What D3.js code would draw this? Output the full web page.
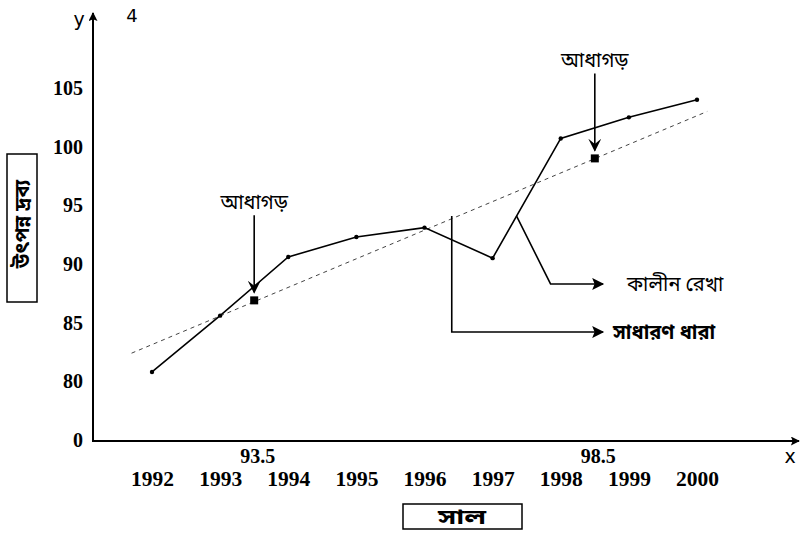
<!DOCTYPE html>
<html>
<head>
<meta charset="utf-8">
<script src="https://cdn.jsdelivr.net/npm/d3@7"></script>
<style>
  body { margin: 0; background: #fff; }
  svg { display: block; }
</style>
</head>
<body>
<svg id="chart" width="800" height="533"></svg>
<script>
// ---- data ----
const years = [1992, 1993, 1994, 1995, 1996, 1997, 1998, 1999, 2000];
const production = [80.8, 85.6, 90.6, 92.3, 93.1, 90.5, 100.7, 102.5, 104.0];
const semiAvgX = [1993.5, 1998.5];
const semiAvgLabels = ["93.5", "98.5"];
const semiAvgValues = [86.9, 99.0];
const trendYears = [1991.7, 2000.15];
const trendValues = [82.4, 103.0];
const yTickValues = [75, 80, 85, 90, 95, 100, 105];
const yTickLabels = ["0", "80", "85", "90", "95", "100", "105"];
const yTitle = "উৎপন্ন দ্রব্য";
const xTitle = "সাল";
const semiAvgText = "আধাগড়";
const seriesText = "কালীন রেখা";
const trendText = "সাধারণ ধারা";

// ---- layout ----
const svg = d3.select("#chart");
const x = d3.scaleLinear().domain([1992, 2000]).range([152, 697]);
const y = d3.scaleLinear().domain([75, 105]).range([440, 88]);
const axisX = 93, axisY = 441;
const serif = "'Liberation Serif', 'Times New Roman', serif";
const beng = "'Noto Sans Bengali', 'Noto Sans', 'Lohit Bengali', sans-serif";

const defs = svg.append("defs");
defs.append("marker").attr("id", "arr").attr("viewBox", "0 0 10 10")
  .attr("refX", 9).attr("refY", 5).attr("markerWidth", 12).attr("markerHeight", 9)
  .attr("markerUnits", "userSpaceOnUse").attr("orient", "auto")
  .append("path").attr("d", "M0,0 L10,5 L0,10 L2,5 Z").attr("fill", "#000");
defs.append("marker").attr("id", "arrBig").attr("viewBox", "0 0 10 10")
  .attr("refX", 9).attr("refY", 5).attr("markerWidth", 16).attr("markerHeight", 12)
  .attr("markerUnits", "userSpaceOnUse").attr("orient", "auto")
  .append("path").attr("d", "M0,0 L10,5 L0,10 L2,5 Z").attr("fill", "#000");
defs.append("marker").attr("id", "arrDown").attr("viewBox", "0 0 10 10")
  .attr("refX", 9).attr("refY", 5).attr("markerWidth", 13).attr("markerHeight", 13)
  .attr("markerUnits", "userSpaceOnUse").attr("orient", "auto")
  .append("path").attr("d", "M0,0 L10,5 L0,10 L4,5 Z").attr("fill", "#000");

// ---- axes lines ----
svg.append("line").attr("x1", axisX).attr("y1", axisY).attr("x2", axisX).attr("y2", 13)
  .attr("stroke", "#000").attr("stroke-width", 2).attr("marker-end", "url(#arr)");
svg.append("line").attr("x1", axisX - 1).attr("y1", axisY).attr("x2", 799).attr("y2", axisY)
  .attr("stroke", "#000").attr("stroke-width", 2).attr("marker-end", "url(#arr)");

// y ticks
const yAxis = d3.axisLeft(y).tickValues(yTickValues)
  .tickFormat((d, i) => yTickLabels[i]).tickSize(0).tickPadding(10);
const gy = svg.append("g").attr("transform", `translate(${axisX},0)`).call(yAxis);
gy.select(".domain").remove();
gy.selectAll("text").attr("font-family", serif).attr("font-weight", "bold")
  .attr("font-size", 20).attr("fill", "#000");

// x ticks (years)
const xAxis = d3.axisBottom(x).tickValues(years).tickFormat(d3.format("d"))
  .tickSize(0).tickPadding(31);
const gx = svg.append("g").attr("transform", `translate(0,${axisY})`).call(xAxis);
gx.select(".domain").remove();
gx.selectAll("text").attr("font-family", serif).attr("font-weight", "bold")
  .attr("font-size", 20).attr("fill", "#000").attr("textLength", 43).attr("lengthAdjust", "spacingAndGlyphs");

// semi-average x labels
const xAxis2 = d3.axisBottom(x).tickValues(semiAvgX)
  .tickFormat((d, i) => semiAvgLabels[i]).tickSize(0).tickPadding(8);
const gx2 = svg.append("g").attr("transform", `translate(3,${axisY})`).call(xAxis2);
gx2.select(".domain").remove();
gx2.selectAll("text").attr("font-family", serif).attr("font-weight", "bold")
  .attr("font-size", 20).attr("fill", "#000");

// axis letters
svg.append("text").attr("x", 79).attr("y", 26).attr("text-anchor", "middle")
  .attr("font-family", "'DejaVu Sans', sans-serif").attr("font-size", 19).text("y");
svg.append("text").attr("x", 790).attr("y", 463).attr("text-anchor", "middle")
  .attr("font-family", "'DejaVu Sans', sans-serif").attr("font-size", 19).text("x");
svg.append("text").attr("x", 132).attr("y", 22).attr("text-anchor", "middle")
  .attr("font-family", "'DejaVu Sans', sans-serif").attr("font-size", 18).text("4");

// ---- trend line (dashed) ----
const trend = trendYears.map((d, i) => [d, trendValues[i]]);
svg.append("path").datum(trend)
  .attr("d", d3.line().x(d => x(d[0])).y(d => y(d[1])))
  .attr("fill", "none").attr("stroke", "#444").attr("stroke-width", 1)
  .attr("stroke-dasharray", "4,4");

// ---- series line ----
const series = years.map((d, i) => [d, production[i]]);
svg.append("path").datum(series)
  .attr("d", d3.line().x(d => x(d[0])).y(d => y(d[1])))
  .attr("fill", "none").attr("stroke", "#000").attr("stroke-width", 1.6);
svg.selectAll(".pt").data(series).enter().append("circle")
  .attr("cx", d => x(d[0])).attr("cy", d => y(d[1])).attr("r", 2.2).attr("fill", "#000");

// ---- semi-average squares and arrows ----
const semi = semiAvgX.map((d, i) => [d, semiAvgValues[i]]);
svg.selectAll(".sq").data(semi).enter().append("rect")
  .attr("x", d => x(d[0]) - 4).attr("y", d => y(d[1]) - 4)
  .attr("width", 8).attr("height", 8).attr("fill", "#000");
const annLen = [75, 75];
svg.selectAll(".sa").data(semi).enter().append("line")
  .attr("x1", d => x(d[0])).attr("x2", d => x(d[0]))
  .attr("y1", (d, i) => y(d[1]) - 10 - annLen[i]).attr("y2", d => y(d[1]) - 8)
  .attr("stroke", "#000").attr("stroke-width", 1.6).attr("marker-end", "url(#arrDown)");
svg.selectAll(".st").data(semi).enter().append("text")
  .attr("x", d => x(d[0])).attr("y", (d, i) => y(d[1]) - 16 - annLen[i])
  .attr("text-anchor", "middle").attr("font-family", beng).attr("font-size", 20)
  .text(semiAvgText);

// ---- callouts ----
const trendPtr = [[1996.4, 94.1], [1996.4, 84.2], [1998.62, 84.2]];
svg.append("path").datum(trendPtr)
  .attr("d", d3.line().x(d => x(d[0])).y(d => y(d[1])))
  .attr("fill", "none").attr("stroke", "#000").attr("stroke-width", 1.6)
  .attr("marker-end", "url(#arrBig)");
svg.append("text").attr("x", x(1998.62) + 10).attr("y", y(84.2) + 7)
  .attr("font-family", beng).attr("font-size", 20).attr("font-weight", "bold").text(trendText);

const seriesPtr = [[1997.35, 94.1], [1997.85, 88.3], [1998.62, 88.3]];
svg.append("path").datum(seriesPtr)
  .attr("d", d3.line().x(d => x(d[0])).y(d => y(d[1])))
  .attr("fill", "none").attr("stroke", "#000").attr("stroke-width", 1.6)
  .attr("marker-end", "url(#arrBig)");
svg.append("text").attr("x", x(1998.62) + 24).attr("y", y(88.3) + 7)
  .attr("font-family", beng).attr("font-size", 20).text(seriesText);

// ---- titles in boxes ----
svg.append("rect").attr("x", 7).attr("y", 154).attr("width", 30).attr("height", 148)
  .attr("fill", "none").attr("stroke", "#000").attr("stroke-width", 1.5);
svg.append("text").attr("transform", "translate(29,224) rotate(-90)")
  .attr("text-anchor", "middle").attr("font-family", beng).attr("font-weight", "bold")
  .attr("font-size", 20).text(yTitle);

svg.append("rect").attr("x", 403).attr("y", 504).attr("width", 119).attr("height", 25)
  .attr("fill", "none").attr("stroke", "#000").attr("stroke-width", 1.5);
svg.append("text").attr("x", 462).attr("y", 524)
  .attr("text-anchor", "middle").attr("font-family", beng).attr("font-weight", "bold")
  .attr("font-size", 21).attr("textLength", 48).attr("lengthAdjust", "spacingAndGlyphs").text(xTitle);
</script>
</body>
</html>
